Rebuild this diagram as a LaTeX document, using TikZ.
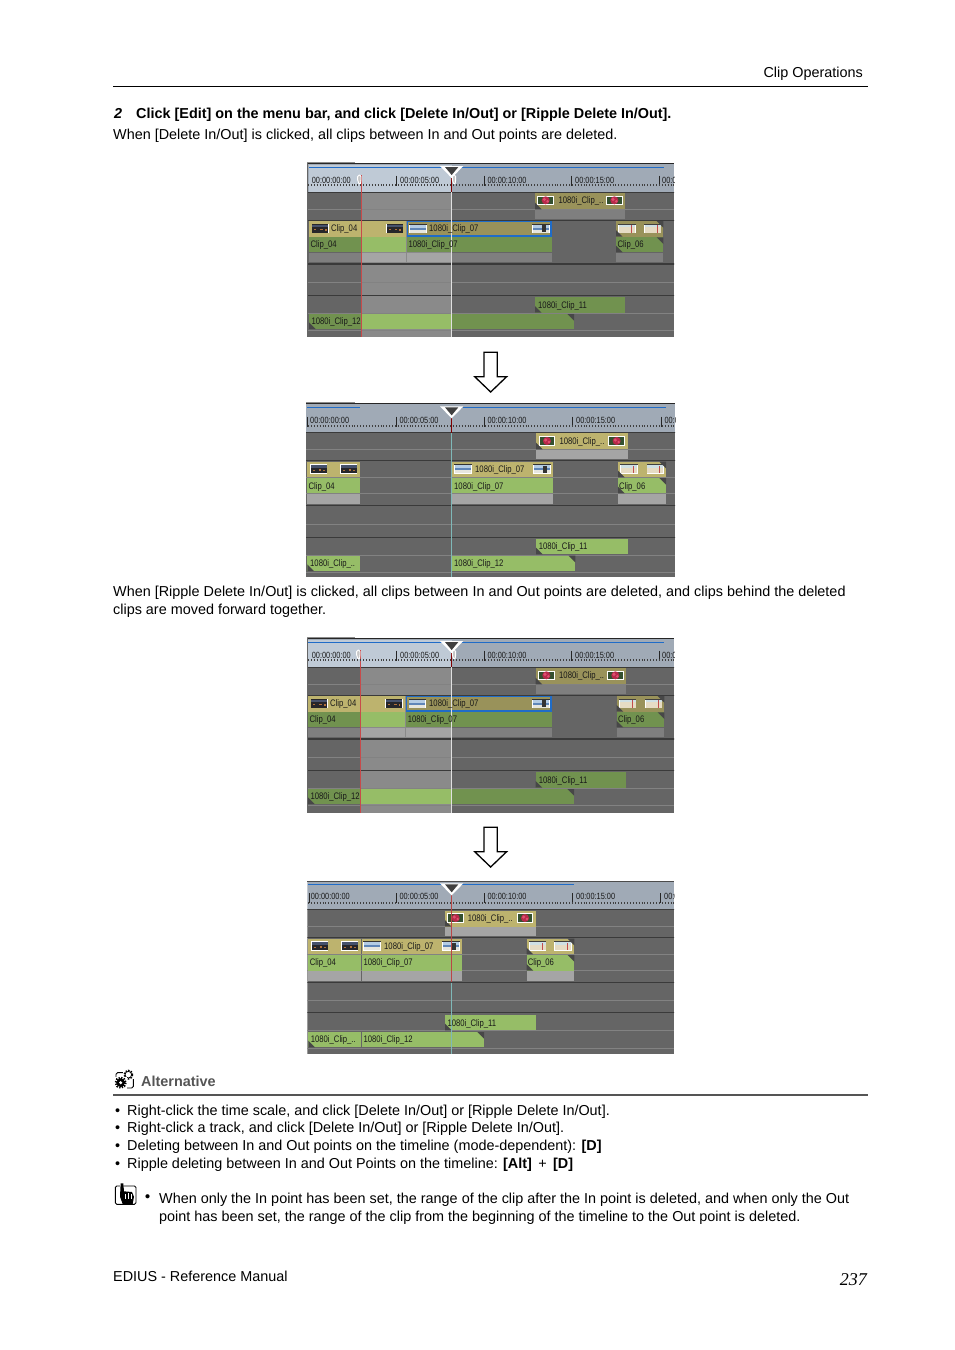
\documentclass[tikz,border=0pt]{standalone}
\usepackage{fontspec}
\setmainfont{Liberation Sans}
\newfontfamily\serifit[ItalicFont=Liberation Serif Italic]{Liberation Serif}
\newcounter{nn}
\definecolor{trk}{HTML}{656565}
\definecolor{trkhi}{HTML}{8A8A8A}
\definecolor{trkline}{HTML}{828282}
\definecolor{sep}{HTML}{3A3A3A}
\definecolor{rulerA}{HTML}{A0AAB6}
\definecolor{rulerB}{HTML}{BFCAD6}
\definecolor{bluebar}{HTML}{1F6CC8}
\definecolor{khL}{HTML}{BDB36E}
\definecolor{khD}{HTML}{99925A}
\definecolor{grL}{HTML}{96BD67}
\definecolor{grD}{HTML}{71924F}
\definecolor{gyL}{HTML}{A5A5A5}
\definecolor{gyD}{HTML}{7F7F7F}
\definecolor{teal}{HTML}{7FB8B8}
\definecolor{redl}{HTML}{C84A4A}
\definecolor{alt}{HTML}{555555}
\definecolor{thA}{HTML}{46526C}
\definecolor{thB}{HTML}{26262A}
\definecolor{thC}{HTML}{B0703A}
\definecolor{skyA}{HTML}{B4CCE4}
\definecolor{seaA}{HTML}{5F86B8}
\definecolor{sandA}{HTML}{E6E6DE}
\definecolor{sandB}{HTML}{E6DCC4}
\definecolor{sandC}{HTML}{CFE0E4}
\definecolor{flG}{HTML}{34502F}
\definecolor{flR}{HTML}{B8294A}
\definecolor{flP}{HTML}{E05070}
\tikzset{
  px/.style={x=1pt,y=-1pt},
  zoomc/.style={x=0.33333pt,y=-0.33333pt},
  body/.style={anchor=base west,inner sep=0pt,font=\fontsize{14.4}{16}\selectfont},
  bodyb/.style={body,font=\fontsize{14.4}{16}\selectfont\bfseries},
  small/.style={anchor=base west,inner sep=0pt,text=black!90,font=\fontsize{9.5}{9.5}\selectfont},
  tick/.style={anchor=base west,inner sep=0pt,text=black!90,font=\fontsize{9}{9}\selectfont}
}
\newcommand{\myrect}[5]{\fill[#1] (#2,#3) rectangle (#4,#5);}
\newcommand{\myhl}[3]{\draw[#1,line width=#2pt] (0,#3) -- (1140,#3);}
\newcommand{\lab}[3]{\stepcounter{nn}\node[small] (lab\thenn) at (#1,#2) {\scalebox{0.81}[1]{#3}};}
\newcommand{\tklab}[3]{\stepcounter{nn}\node[tick] (lab\thenn) at (#1,#2) {\scalebox{0.82}[1]{#3}};}
\newcommand{\cBL}[2]{\fill[black!72] (#1,#2) -- ++(0,-20) -- ++(20,20) -- cycle;}
\newcommand{\cTR}[2]{\fill[black!72] (#1,#2) -- ++(-20,0) -- ++(20,20) -- cycle;}
% thumbnails: #1 x, #2 y
\newcommand{\thDark}[2]{\begin{scope}[shift={(#1,#2)}]
  \fill[white] (0,0) rectangle (52,29);
  \fill[thB] (2,2) rectangle (50,27);
  \fill[thA] (2,3) rectangle (50,11);
  \fill[thC] (8,16) rectangle (14,20);\fill[thC] (26,15) rectangle (34,19);\fill[thC] (40,17) rectangle (45,21);
\end{scope}}
\newcommand{\thBeachA}[2]{\begin{scope}[shift={(#1,#2)}]
  \fill[white] (0,0) rectangle (52,29);
  \fill[black!80] (0,0) rectangle (52,2);
  \fill[skyA] (2,3) rectangle (50,12);
  \fill[seaA] (2,12) rectangle (50,18);
  \fill[sandA] (2,18) rectangle (50,27);
\end{scope}}
\newcommand{\thBeachB}[2]{\thBeachA{#1}{#2}\begin{scope}[shift={(#1,#2)}]
  \fill[black!80] (30,5) rectangle (40,26);
\end{scope}}
\newcommand{\thFlower}[2]{\begin{scope}[shift={(#1,#2)}]
  \fill[white] (0,0) rectangle (50,29);
  \fill[flG] (3,3) rectangle (47,26);
  \fill[flR] (25,14) circle[radius=12];
  \fill[flP] (21,11) circle[radius=5];
  \fill[flP] (31,17) circle[radius=4];
\end{scope}}
\newcommand{\thSand}[2]{\begin{scope}[shift={(#1,#2)}]
  \fill[white] (0,0) rectangle (52,29);
  \fill[sandB] (2,11) rectangle (50,27);
  \fill[sandC] (2,3) rectangle (50,11);
  \fill[black!75] (0,0) rectangle (52,2);
  \fill[red!65!black!70] (38,5) rectangle (40,27);
\end{scope}}
% ruler
\newcommand{\rulerticks}[6]{% y top of tick, y bottom, 4 major x
  \foreach \mx in {#3,#4,#5,#6}{\draw[black!85,line width=.7pt] (\mx,#1) -- (\mx,#2);}
  \draw[black!75,line width=1.7pt,dash pattern=on .8pt off 2.1pt] (24,#2-1) -- (1125,#2-1);
}
\newcommand{\playhead}[2]{% x, y top
  \fill[white] (#1-35,#2) -- (#1+35,#2) -- (#1,#2+36) -- cycle;
  \fill[black!75] (#1-20,#2+3) -- (#1+20,#2+3) -- (#1,#2+27) -- cycle;
}
\newcommand{\marker}[2]{% in/out flag
  \draw[white,line width=.9pt,rounded corners=1.5pt,fill=black!22] (#1-5,#2) -- (#1+5,#2) -- (#1+5,#2+19) -- (#1+2,#2+30) -- (#1-5,#2+19) -- cycle;
}
\newcommand{\dnarrow}[1]{\begin{scope}[zoomc,shift={(0,#1)}]
  \draw[black,line width=1.3pt,fill=white,line join=miter] (552,22)--(592,22)--(592,95)--(620,95)--(572,141)--(524,95)--(552,95)--cycle;
\end{scope}}
% selected panel (zoom coordinates)
% #1 left #2 red #3 clip04 end #4 top x0 #5 top x1 #6 c06 x0 #7 c06 x1 #8 bottom
\newcommand{\selpanel}[8]{%
  \begin{scope}
  \clip (22,23) rectangle (1122,#8);
  \myrect{rulerA}{22}{23}{1122}{112}
  \myrect{rulerB}{#1}{30}{455}{110}
  \myrect{trk}{22}{112}{1122}{#8}
  \myrect{trkhi}{#2}{112}{455}{#8}
  \myhl{sep}{1}{111}
  \foreach \yy in {163,382,475,525}{\draw[trkline,line width=.7pt] (22,\yy) -- (1122,\yy);}
  \myhl{sep}{1}{196}
  \myhl{sep}{1.2}{327}
  \myhl{sep}{1}{420}
  % top clip
  \myrect{khD}{#4}{113}{#5}{162}
  \myrect{gyD}{#4}{165}{#5}{193}
  \cBL{#4}{163}
  \thFlower{#4+7}{122}\thFlower{#5-57}{122}
  \lab{#4+70}{146}{1080i\_Clip\_..}
  % video row
  \myrect{khL}{#1}{198}{#3}{245}
  \thDark{#1+8}{206}\thDark{#3-60}{206}
  \lab{#1+66}{229}{Clip\_04}
  \myrect{bluebar}{#3+2}{198}{755}{245}
  \myrect{khD}{#3+6}{202}{751}{241}
  \thBeachA{#3+10}{206}\thBeachB{697}{206}
  % audio row
  \myrect{khD}{#6}{198}{#7}{245}
  \thSand{#6+7}{206}\thSand{#7-58}{206}
  \cBL{#6}{245}\cTR{#7}{198}
  \myrect{grD}{#1}{247}{#2}{292}
  \myrect{grL}{#2}{247}{#3}{292}
  \myrect{grD}{#3+2}{247}{756}{292}
  \myrect{grD}{#6}{247}{#7}{292}
  \cBL{#6}{292}\cTR{#7}{247}
  % grey row
  \myrect{gyD}{#1}{294}{#2}{322}
  \myrect{gyL}{#2}{294}{#3}{322}
  \myrect{gyL}{#3+2}{294}{455}{322}
  \myrect{gyD}{455}{294}{756}{322}
  \myrect{gyD}{#6}{294}{#7}{322}
  % lower clips
  \myrect{grD}{#4}{427}{#5}{473}
  \cBL{#4}{473}
  \myrect{grD}{#1}{477}{822}{522}
  \myrect{grL}{#2}{477}{455}{522}
  \cBL{#1}{522}\cTR{822}{477}
  % playhead lines under the labels
  \draw[redl,line width=.6pt] (#2,60) -- (#2,#8);
  \draw[black!12,line width=.7pt] (455,112) -- (455,#8);
  \lab{387}{229}{1080i\_Clip\_07}
  \lab{#1+4}{278}{Clip\_04}
  \lab{#3+7}{278}{1080i\_Clip\_07}
  \lab{#6+4}{278}{Clip\_06}
  \lab{#4+9}{459}{1080i\_Clip\_11}
  \lab{#1+7}{509}{1080i\_Clip\_12}
  % ruler marks
  \rulerticks{62}{92}{290}{553}{815}{1077}
  \tklab{35}{84}{00:00:00:00}
  \tklab{300}{84}{00:00:05:00}
  \tklab{562}{84}{00:00:10:00}
  \tklab{825}{84}{00:00:15:00}
  \tklab{1086}{84}{00:00:20:00}
  \draw[bluebar,line width=1pt] (#1,38) -- (1092,38);
  \draw[red!50!black,line width=.8pt] (455,70) -- (455,110);
  \marker{#2-7}{60}
  \marker{462}{60}
  \playhead{455}{33}
  \end{scope}
  \draw[black!85,line width=1pt] (22,25) -- (1122,25);
  \draw[black!45,line width=1pt] (22,23) -- (165,23);
  \draw[black!60,line width=.8pt] (23,25) -- (23,#8);
}
\begin{document}
\begin{tikzpicture}[px]
\useasboundingbox (0,0) rectangle (954,1350);
\fill[white] (0,0) rectangle (954,1350);
% header
\node[body,anchor=base east] (hdr) at (863,77) {Clip Operations};
\draw[black,line width=.8pt] (113,86.3) -- (868,86.3);
\node[bodyb,font=\fontsize{14.4}{16}\selectfont\bfseries\itshape] (stepnum) at (114,118) {2};
\node[bodyb] (step) at (136,118) {Click [Edit] on the menu bar, and click [Delete In/Out] or [Ripple Delete In/Out].};
\node[body] (t1) at (113,139) {When [Delete In/Out] is clicked, all clips between In and Out points are deleted.};
% Panel 1
\begin{scope}[shift={(300,155)},zoomc]
  \selpanel{27}{185}{318}{705}{975}{948}{1090}{545}
\end{scope}
% Arrow 1
\begin{scope}[shift={(300,345)}]\dnarrow{0}\end{scope}
% Panel 2
\begin{scope}[shift={(300,345)},zoomc]
  \begin{scope}
  \clip (18,173) rectangle (1125,697);
  \myrect{rulerA}{18}{173}{1125}{263}
  \myrect{trk}{18}{263}{1125}{697}
  \foreach \yy in {313,397,445,537,630,682}{\draw[trkline,line width=.7pt] (18,\yy) -- (1125,\yy);}
  \myhl{sep}{1}{263}\myhl{sep}{1}{347}\myhl{sep}{1.3}{482}\myhl{sep}{1}{576}
  \myrect{khL}{708}{265}{985}{313}
  \myrect{gyL}{708}{315}{985}{343}
  \cBL{708}{313}
  \thFlower{716}{274}\thFlower{925}{274}
  \lab{778}{298}{1080i\_Clip\_..}
  \myrect{khL}{22}{350}{180}{397}
  \thDark{30}{358}\thDark{120}{358}
  \myrect{khL}{456}{350}{760}{397}
  \thBeachA{463}{358}\thBeachB{700}{358}
  \lab{525}{382}{1080i\_Clip\_07}
  \myrect{khL}{954}{350}{1098}{397}
  \thSand{961}{358}\thSand{1040}{358}
  \cBL{954}{397}\cTR{1098}{350}
  \myrect{grL}{22}{399}{180}{445}
  \myrect{grL}{456}{399}{760}{445}
  \myrect{grL}{954}{399}{1098}{445}
  \cBL{954}{445}\cTR{1098}{399}
  \lab{25}{432}{Clip\_04}
  \lab{462}{432}{1080i\_Clip\_07}
  \lab{957}{432}{Clip\_06}
  \myrect{gyL}{22}{447}{180}{476}
  \myrect{gyL}{456}{447}{760}{476}
  \myrect{gyL}{954}{447}{1098}{476}
  \myrect{grL}{708}{582}{985}{628}
  \cBL{708}{628}
  \lab{716}{614}{1080i\_Clip\_11}
  \myrect{grL}{22}{632}{180}{678}
  \cBL{22}{678}
  \lab{30}{664}{1080i\_Clip\_..}
  \myrect{grL}{456}{632}{826}{678}
  \cTR{826}{632}
  \lab{462}{664}{1080i\_Clip\_12}
  \rulerticks{215}{245}{22}{288}{553}{818}
  \draw[black!85,line width=.7pt] (1084,215) -- (1084,245);
  \tklab{30}{234}{00:00:00:00}
  \tklab{298}{234}{00:00:05:00}
  \tklab{562}{234}{00:00:10:00}
  \tklab{828}{234}{00:00:15:00}
  \tklab{1093}{234}{00:00:20:00}
  \draw[bluebar,line width=1pt] (22,187) -- (180,187);
  \draw[bluebar,line width=1pt] (490,187) -- (1097,187);
  \draw[teal,line width=.7pt] (455,263) -- (455,697);
  \draw[red!50!black,line width=.8pt] (455,215) -- (455,263);
  \playhead{455}{184}
  \end{scope}
  \draw[black!85,line width=1pt] (18,175) -- (1125,175);
  \draw[black!45,line width=1pt] (18,173) -- (165,173);
\end{scope}
\node[body] (t2) at (113,596) {When [Ripple Delete In/Out] is clicked, all clips between In and Out points are deleted, and clips behind the deleted};
\node[body] (t3) at (113,614) {clips are moved forward together.};
% Panel 3
\begin{scope}[shift={(300,630)},zoomc]
  \selpanel{24}{182}{316}{707}{978}{950}{1093}{548}
\end{scope}
% Arrow 2
\begin{scope}[shift={(300,820)}]\dnarrow{0}\end{scope}
% Panel 4
\begin{scope}[shift={(300,820)},zoomc]
  \begin{scope}
  \clip (22,183) rectangle (1122,703);
  \myrect{rulerA}{22}{183}{1122}{268}
  \myrect{trk}{22}{268}{1122}{703}
  \foreach \yy in {320,403,452,542,632,685}{\draw[trkline,line width=.7pt] (22,\yy) -- (1122,\yy);}
  \myhl{sep}{1}{268}\myhl{sep}{1}{352}\myhl{sep}{1.3}{488}\myhl{sep}{1}{578}
  \myrect{khL}{435}{272}{708}{320}
  \myrect{gyL}{435}{322}{708}{348}
  \cBL{435}{320}
  \thFlower{442}{280}\thFlower{650}{280}
  \myrect{khL}{25}{356}{184}{403}
  \thDark{33}{364}\thDark{123}{364}
  \myrect{khL}{186}{356}{487}{403}
  \thBeachA{190}{364}\thBeachB{427}{364}
  \myrect{khL}{680}{356}{823}{403}
  \thSand{687}{364}\thSand{763}{364}
  \cBL{680}{403}\cTR{823}{356}
  \myrect{grL}{25}{405}{184}{452}
  \myrect{grL}{186}{405}{487}{452}
  \myrect{grL}{680}{405}{823}{452}
  \cBL{680}{452}\cTR{823}{405}
  \myrect{gyL}{25}{454}{184}{482}
  \myrect{gyL}{186}{454}{487}{482}
  \myrect{gyL}{680}{454}{823}{482}
  \myrect{grL}{435}{586}{708}{631}
  \cBL{435}{631}
  \myrect{grL}{25}{636}{184}{682}
  \cBL{25}{682}
  \myrect{grL}{186}{636}{552}{682}
  \cTR{552}{636}
  \draw[red!45!gray,line width=.7pt] (455,222) -- (455,485);
  \draw[teal,line width=.7pt] (455,488) -- (455,703);
  \lab{503}{304}{1080i\_Clip\_..}
  \lab{252}{388}{1080i\_Clip\_07}
  \lab{29}{437}{Clip\_04}
  \lab{190}{437}{1080i\_Clip\_07}
  \lab{683}{437}{Clip\_06}
  \lab{442}{618}{1080i\_Clip\_11}
  \lab{32}{668}{1080i\_Clip\_..}
  \lab{190}{668}{1080i\_Clip\_12}
  \rulerticks{220}{250}{27}{290}{553}{818}
  \draw[black!85,line width=.7pt] (1082,220) -- (1082,250);
  \tklab{32}{239}{00:00:00:00}
  \tklab{298}{239}{00:00:05:00}
  \tklab{562}{239}{00:00:10:00}
  \tklab{828}{239}{00:00:15:00}
  \tklab{1092}{239}{00:00:20:00}
  \draw[bluebar,line width=1pt] (25,193) -- (822,193);
  \playhead{455}{190}
  \end{scope}
  \draw[black!70,line width=1pt] (22,185) -- (1122,185);
\end{scope}
% Alternative
\begin{scope}[shift={(100,1060)},zoomc]
  \draw[black,line width=.9pt,rounded corners=1.5pt] (48,38) rectangle (100,84);
  \fill[white] (68,28) rectangle (104,58);
  \draw[black,line width=2pt,dash pattern=on 1.3pt off 1.3pt] (85,44) circle[radius=12];
  \draw[black,line width=.8pt,fill=white] (85,44) circle[radius=10];
  \fill[white] (42,50) rectangle (80,86);
  \draw[black,line width=2.2pt,dash pattern=on 1.3pt off 1.3pt] (62,68) circle[radius=15];
  \fill[black] (62,68) circle[radius=13];
  \fill[white] (62,68) circle[radius=5];
  % hand icon
  \draw[black,line width=.9pt,rounded corners=1.5pt] (46,378) rectangle (108,433);
  \fill[white] (60,370) rectangle (72,380);
  \fill[black] (62,370) -- (70,370) -- (72,394) -- (96,396) -- (102,410) -- (98,432) -- (68,432) -- (60,410) -- cycle;
  \draw[white,line width=.5pt] (77,402) -- (77,416);\draw[white,line width=.5pt] (85,400) -- (85,416);\draw[white,line width=.5pt] (93,402) -- (93,416);
\end{scope}
\node[bodyb,text=alt] (altt) at (141,1086) {Alternative};
\draw[alt,line width=1.3pt] (113,1095) -- (868,1095);
\foreach \yy/\nm in {1115/a,1132/b,1150/c,1168/d}{\node[body] (bul\nm) at (115,\yy) {•};}
\node[body] (l1) at (127,1115) {Right-click the time scale, and click [Delete In/Out] or [Ripple Delete In/Out].};
\node[body] (l2) at (127,1132) {Right-click a track, and click [Delete In/Out] or [Ripple Delete In/Out].};
\node[body] (l3) at (127,1150) {Deleting between In and Out points on the timeline (mode-dependent): \textbf{[D]}};
\node[body] (l4) at (127,1168) {Ripple deleting between In and Out Points on the timeline: \textbf{[Alt]}\, +\, \textbf{[D]}};
\node[bodyb] (bulN) at (145,1201) {•};
\node[body] (n1) at (159,1203) {When only the In point has been set, the range of the clip after the In point is deleted, and when only the Out};
\node[body] (n2) at (159,1221) {point has been set, the range of the clip from the beginning of the timeline to the Out point is deleted.};
\node[body] (foot) at (113,1281) {EDIUS - Reference Manual};
\node[anchor=base east,inner sep=0pt,font=\fontsize{18}{18}\selectfont\serifit\itshape] (pg) at (867,1285) {237};
\end{tikzpicture}
\end{document}
